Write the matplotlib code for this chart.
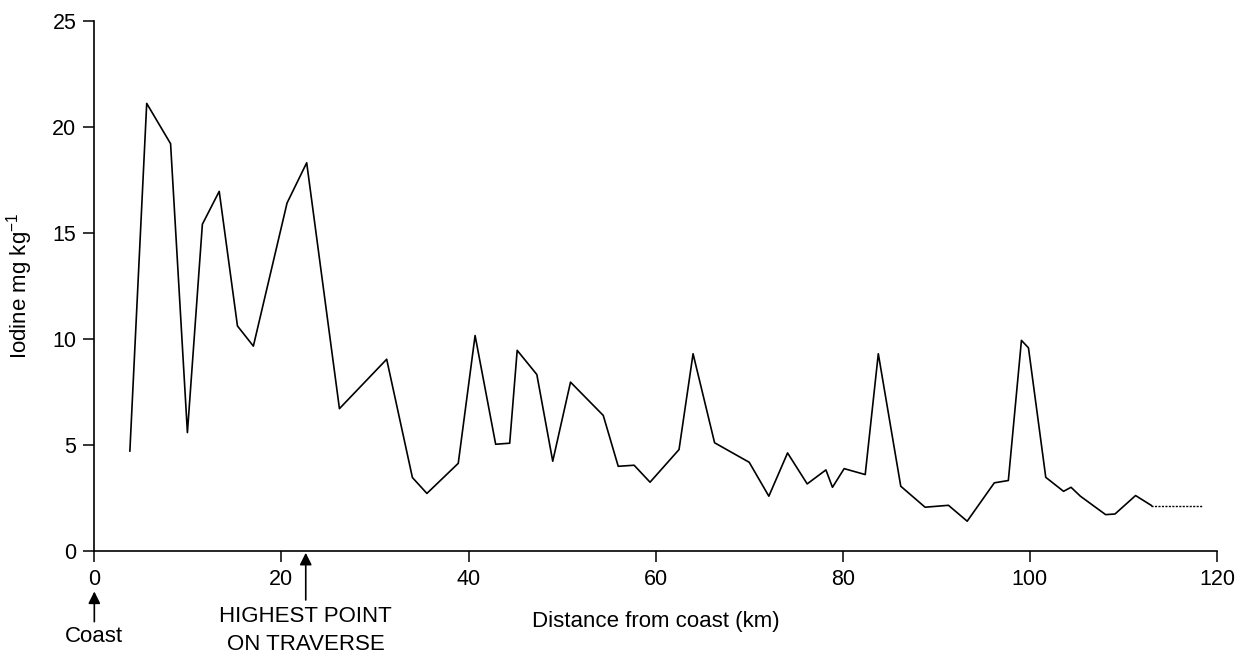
import matplotlib
matplotlib.use("Agg")
import matplotlib.pyplot as plt

plt.rcParams['font.family'] = ['Liberation Sans', 'DejaVu Sans']

# distance from coast (km) and iodine (mg/kg)
distance = [3.8, 5.6, 8.15, 9.95, 11.55, 13.35, 15.3, 17.0, 20.6, 22.7,
            26.2, 31.25, 34.0, 35.55, 38.9, 40.7, 42.9, 44.4, 45.2, 47.3,
            49.0, 50.9, 54.4, 56.0, 57.7, 59.4, 62.5, 64.0, 66.3, 70.0,
            72.1, 74.1, 76.2, 78.2, 78.9, 80.15, 82.4, 83.8, 86.2, 88.8,
            91.3, 93.3, 96.2, 97.7, 99.1, 99.85, 101.7, 103.6, 104.4, 105.4,
            108.1, 109.1, 111.3, 113.0]
iodine = [4.7, 21.1, 19.2, 5.57, 15.4, 16.95, 10.6, 9.65, 16.4, 18.3,
          6.7, 9.03, 3.45, 2.7, 4.12, 10.15, 5.02, 5.07, 9.45, 8.31,
          4.22, 7.95, 6.38, 3.98, 4.03, 3.23, 4.77, 9.29, 5.09, 4.17,
          2.57, 4.61, 3.15, 3.81, 2.99, 3.87, 3.59, 9.29, 3.04, 2.05,
          2.14, 1.39, 3.2, 3.31, 9.92, 9.57, 3.46, 2.8, 2.99, 2.57,
          1.70, 1.73, 2.60, 2.13]
# last stretch drawn dashed
tail_distance = [113.0, 118.4]
tail_iodine = [2.13, 2.13]

xticks = [0, 20, 40, 60, 80, 100, 120]
yticks = [0, 5, 10, 15, 20, 25]

fig = plt.figure(figsize=(12.46, 6.54), dpi=100)
ax = fig.add_axes([0.0757, 0.158, 0.901, 0.8103])

ax.plot(distance, iodine, color='black', lw=1.2)
ax.plot(tail_distance, tail_iodine, color='black', lw=1.0, ls=(0, (1.5, 1)))

ax.set_xlim(0, 120)
ax.set_ylim(0, 25)
ax.set_xticks(xticks)
ax.set_yticks(yticks)
ax.spines['top'].set_visible(False)
ax.spines['right'].set_visible(False)
for s in ['left', 'bottom']:
    ax.spines[s].set_linewidth(1.2)
ax.tick_params(length=8, width=1.1, labelsize=15.5, pad=5)

ax.set_xlabel('Distance from coast (km)', fontsize=16, labelpad=15)
ax.set_ylabel('Iodine mg kg$^{\\mathregular{-1}}$', fontsize=16, labelpad=12)

# arrows and notes under the axis
tr = ax.get_xaxis_transform()
arrow = dict(arrowstyle='-|>', color='black', lw=1.2, mutation_scale=18,
             shrinkA=0, shrinkB=0)
ax.annotate('', xy=(0, -0.077), xytext=(0, -0.134), xycoords=tr, textcoords=tr,
            arrowprops=arrow, annotation_clip=False)
ax.text(0, -0.162, 'Coast', transform=tr, ha='center', va='center', fontsize=16)

ax.annotate('', xy=(22.6, -0.004), xytext=(22.6, -0.093), xycoords=tr, textcoords=tr,
            arrowprops=arrow, annotation_clip=False)
ax.text(22.6, -0.125, 'HIGHEST POINT', transform=tr, ha='center', va='center', fontsize=16)
ax.text(22.6, -0.178, 'ON TRAVERSE', transform=tr, ha='center', va='center', fontsize=16)

fig.savefig('out.png', dpi=100)
